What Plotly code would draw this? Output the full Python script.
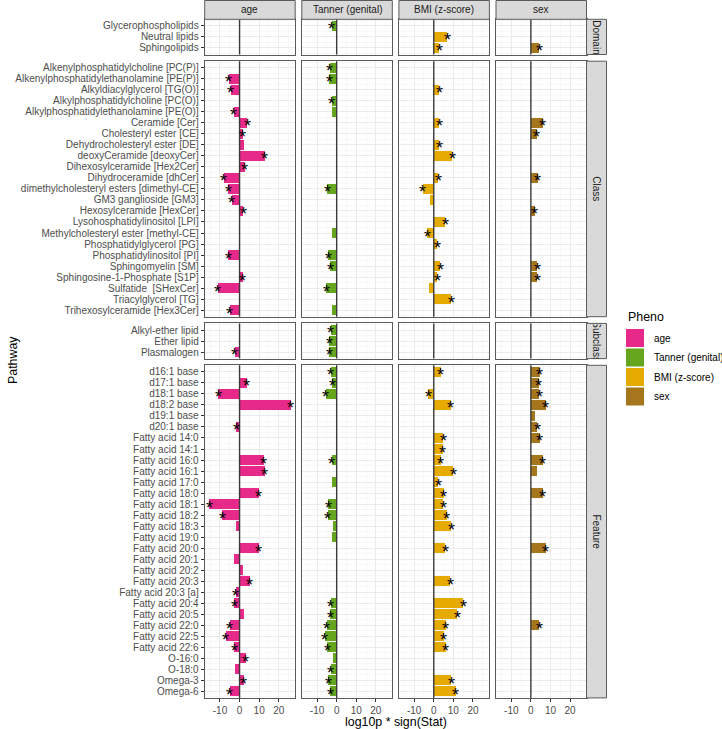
import plotly.graph_objects as go

W, H = 722, 729

phenos = ["age", "Tanner (genital)", "BMI (z-score)", "sex"]
pheno_colors = ["#E7298A", "#66A61E", "#E6AB02", "#A6761D"]
facets = ["Domain", "Class", "Subclass", "Feature"]

domain_labels = ["Glycerophospholipids", "Neutral lipids", "Sphingolipids"]
class_labels = [
    "Alkenylphosphatidylcholine [PC(P)]",
    "Alkenylphosphatidylethanolamine [PE(P)]",
    "Alkyldiacylglycerol [TG(O)]",
    "Alkylphosphatidylcholine [PC(O)]",
    "Alkylphosphatidylethanolamine [PE(O)]",
    "Ceramide [Cer]",
    "Cholesteryl ester [CE]",
    "Dehydrocholesteryl ester [DE]",
    "deoxyCeramide [deoxyCer]",
    "Dihexosylceramide [Hex2Cer]",
    "Dihydroceramide [dhCer]",
    "dimethylcholesteryl esters [dimethyl-CE]",
    "GM3 ganglioside [GM3]",
    "Hexosylceramide [HexCer]",
    "Lysohosphatidylinositol [LPI]",
    "Methylcholesteryl ester [methyl-CE]",
    "Phosphatidylglycerol [PG]",
    "Phosphatidylinositol [PI]",
    "Sphingomyelin [SM]",
    "Sphingosine-1-Phosphate [S1P]",
    "Sulfatide  [SHexCer]",
    "Triacylglycerol [TG]",
    "Trihexosylceramide [Hex3Cer]",
]
subclass_labels = ["Alkyl-ether lipid", "Ether lipid", "Plasmalogen"]
feature_labels = [
    "d16:1 base", "d17:1 base", "d18:1 base", "d18:2 base", "d19:1 base", "d20:1 base",
    "Fatty acid 14:0", "Fatty acid 14:1", "Fatty acid 16:0", "Fatty acid 16:1",
    "Fatty acid 17:0", "Fatty acid 18:0", "Fatty acid 18:1", "Fatty acid 18:2",
    "Fatty acid 18:3", "Fatty acid 19:0", "Fatty acid 20:0", "Fatty acid 20:1",
    "Fatty acid 20:2", "Fatty acid 20:3", "Fatty acid 20:3 [a]", "Fatty acid 20:4",
    "Fatty acid 20:5", "Fatty acid 22:0", "Fatty acid 22:5", "Fatty acid 22:6",
    "O-16:0", "O-18:0", "Omega-3", "Omega-6",
]

x_ticks = [-10, 0, 10, 20]
x_tick_text = ["-10", "0", "10", "20"]

# ---- values (log10p * sign(Stat)); None = no bar; *_sig: 1 = starred ----
age_domain = [None, None, None]
age_domain_sig = [0, 0, 0]
tanner_domain = [-2.6, None, None]
tanner_domain_sig = [1, 0, 0]
bmi_domain = [None, 7.0, 2.9]
bmi_domain_sig = [0, 1, 1]
sex_domain = [None, None, 4.3]
sex_domain_sig = [0, 0, 1]

age_class = [None, -5.4, -4.6, None, -2.9, 3.8, 1.7, 2.2, 12.8, 2.6, -8.0, -5.8,
             -3.9, 2.0, None, None, None, -5.8, None, 1.7, -11.1, None, -5.1]
age_class_sig = [0, 1, 1, 0, 1, 1, 1, 0, 1, 1, 1, 1, 1, 1, 0, 0, 0, 1, 0, 1, 1, 0, 1]
tanner_class = [-3.6, -3.9, None, -2.6, -2.4, None, None, None, None, None, None, -4.8,
                None, None, None, -2.2, None, -4.3, -3.4, None, -5.4, None, -2.6]
tanner_class_sig = [1, 1, 0, 1, 0, 0, 0, 0, 0, 0, 0, 1, 0, 0, 0, 0, 0, 1, 1, 0, 1, 0, 0]
bmi_class = [None, None, 2.9, None, None, 2.9, None, 2.9, 9.4, None, 2.4, -5.6,
             -1.9, None, 5.8, -3.3, 1.7, None, 3.2, 1.9, -2.4, 9.0, None]
bmi_class_sig = [0, 0, 1, 0, 0, 1, 0, 1, 1, 0, 1, 1, 0, 0, 1, 1, 1, 0, 1, 1, 0, 1, 0]
sex_class = [None, None, None, None, None, 6.0, 2.9, None, None, None, 3.4, None,
             None, 1.9, None, None, None, None, 3.2, 3.2, None, None, None]
sex_class_sig = [0, 0, 0, 0, 0, 1, 1, 0, 0, 0, 1, 0, 0, 1, 0, 0, 0, 0, 1, 1, 0, 0, 0]

age_subclass = [None, None, -2.4]
age_subclass_sig = [0, 0, 1]
tanner_subclass = [-2.9, -3.7, -3.9]
tanner_subclass_sig = [1, 1, 1]
bmi_subclass = [None, None, None]
bmi_subclass_sig = [0, 0, 0]
sex_subclass = [None, None, None]
sex_subclass_sig = [0, 0, 0]

age_feature = [None, 3.7, -10.9, 26.0, None, -1.7, None, None, 12.4, 12.9, None, 9.7,
               -15.6, -8.8, -2.0, None, 9.7, -2.6, 2.0, 5.1, -1.9, -2.7, 2.2, -5.1,
               -7.1, -2.7, 3.1, -2.4, 2.2, -5.1]
age_feature_sig = [0, 1, 1, 1, 0, 1, 0, 0, 1, 1, 0, 1, 1, 1, 0, 0, 1, 0, 0, 1, 1, 1, 0, 1,
                   1, 1, 1, 0, 1, 1]
tanner_feature = [-2.9, -2.2, -5.6, None, None, None, None, None, -2.6, None, -2.4, None,
                  -4.3, -4.6, -2.0, -2.2, None, None, None, None, None, -2.9, -3.4, -5.1,
                  -6.0, -4.8, -1.7, -3.1, -4.3, -3.4]
tanner_feature_sig = [1, 1, 1, 0, 0, 0, 0, 0, 1, 0, 0, 0, 1, 1, 0, 0, 0, 0, 0, 0, 0, 1, 1, 1,
                      1, 1, 0, 1, 1, 1]
bmi_feature = [3.6, None, -2.7, 8.7, None, None, 4.9, 4.6, 3.6, 10.0, 2.4, 5.1, 4.8, 6.6,
               8.8, None, 5.8, None, None, 8.3, None, 15.1, 12.1, 6.1, 5.1, 6.1, None,
               None, 8.8, 11.1]
bmi_feature_sig = [1, 0, 1, 1, 0, 0, 1, 1, 1, 1, 1, 1, 1, 1, 1, 0, 1, 0, 0, 1, 0, 1, 1, 1,
                   1, 1, 0, 0, 1, 1]
sex_feature = [4.6, 4.1, 4.3, 7.7, 2.0, 3.2, 4.6, None, 6.0, 3.2, None, 6.0, None, None,
               None, None, 7.5, None, None, None, None, None, None, 4.3, None, None, None,
               None, None, None]
sex_feature_sig = [1, 1, 1, 1, 0, 1, 1, 0, 1, 0, 0, 1, 0, 0, 0, 0, 1, 0, 0, 0, 0, 0, 0, 1,
                   0, 0, 0, 0, 0, 0]

facet_labels = [domain_labels, class_labels, subclass_labels, feature_labels]
data = [
    [(age_domain, age_domain_sig), (tanner_domain, tanner_domain_sig),
     (bmi_domain, bmi_domain_sig), (sex_domain, sex_domain_sig)],
    [(age_class, age_class_sig), (tanner_class, tanner_class_sig),
     (bmi_class, bmi_class_sig), (sex_class, sex_class_sig)],
    [(age_subclass, age_subclass_sig), (tanner_subclass, tanner_subclass_sig),
     (bmi_subclass, bmi_subclass_sig), (sex_subclass, sex_subclass_sig)],
    [(age_feature, age_feature_sig), (tanner_feature, tanner_feature_sig),
     (bmi_feature, bmi_feature_sig), (sex_feature, sex_feature_sig)],
]

# ---- layout geometry (pixels) ----
col_left = [204.7, 301.8, 398.9, 496.0]
col_w = 90.5
row_top = [19.3, 61.2, 323.4, 365.3]
row_bot = [54.5, 316.7, 358.6, 697.9]
strip_w = 20.0
x_range = [-17.8, 28.4]

FONT = "Liberation Sans, Arial, Helvetica, sans-serif"
BORDER = "#5a5a5a"


def fx(p):
    return p / W


def fy(p):
    return 1 - p / H


fig = go.Figure()
layout = {}
annotations = []
shapes = []

for r, facet in enumerate(facets):
    labels = facet_labels[r]
    n = len(labels)
    for c, ph in enumerate(phenos):
        k = r * 4 + c + 1
        xa = "x" if k == 1 else f"x{k}"
        ya = "y" if k == 1 else f"y{k}"
        vals, sig = data[r][c]
        idx = [i for i, v in enumerate(vals) if v is not None]
        fig.add_trace(go.Bar(
            x=[vals[i] for i in idx], y=idx, orientation="h", width=0.9,
            marker=dict(color=pheno_colors[c], line=dict(width=0)),
            xaxis=xa, yaxis=ya, showlegend=False, hoverinfo="skip",
        ))
        for i in idx:
            if sig[i]:
                annotations.append(dict(
                    x=vals[i], y=i, xref=xa, yref=ya, text="*", showarrow=False,
                    font=dict(family=FONT, size=18, color="black"),
                    xanchor="center", yanchor="middle", yshift=-3.5,
                ))
        bottom = (r == len(facets) - 1)
        layout["xaxis" if k == 1 else f"xaxis{k}"] = dict(
            domain=[fx(col_left[c]), fx(col_left[c] + col_w)],
            anchor=ya, range=x_range, tickmode="array",
            tickvals=x_ticks, ticktext=x_tick_text,
            showticklabels=bottom, ticks="outside" if bottom else "",
            ticklen=3, tickwidth=1, tickcolor="#333333",
            tickfont=dict(family=FONT, size=10, color="#4D4D4D"),
            showgrid=True, gridcolor="#EBEBEB", gridwidth=1,
            minor=dict(tickmode="array", tickvals=[-15, -5, 5, 15, 25],
                       showgrid=True, gridcolor="#F3F3F3", gridwidth=0.6),
            zeroline=False, showline=True, mirror=True,
            linecolor=BORDER, linewidth=1, fixedrange=True,
        )
        layout["yaxis" if k == 1 else f"yaxis{k}"] = dict(
            domain=[fy(row_bot[r]), fy(row_top[r])],
            anchor=xa, range=[n - 0.4, -0.6], tickmode="array",
            tickvals=list(range(n)), ticktext=labels,
            showticklabels=(c == 0), ticks="outside" if c == 0 else "",
            ticklen=3, tickwidth=1, tickcolor="#333333",
            tickfont=dict(family=FONT, size=10, color="#4D4D4D"),
            showgrid=True, gridcolor="#EBEBEB", gridwidth=1,
            minor=dict(tickmode="array", tickvals=[i + 0.5 for i in range(-1, n)],
                       showgrid=True, gridcolor="#F3F3F3", gridwidth=0.6),
            zeroline=False, showline=True, mirror=True,
            linecolor=BORDER, linewidth=1, fixedrange=True,
        )
        # vertical reference line at 0
        shapes.append(dict(type="line", xref=xa, yref=f"{ya} domain",
                           x0=0, x1=0, y0=0, y1=1, layer="above",
                           line=dict(color="#3a3a3a", width=1.4)))

# top strips
for c, ph in enumerate(phenos):
    shapes.append(dict(type="rect", xref="paper", yref="paper",
                       x0=fx(col_left[c]), x1=fx(col_left[c] + col_w),
                       y0=fy(row_top[0]), y1=fy(0.5),
                       fillcolor="#D9D9D9", line=dict(color=BORDER, width=1), layer="above"))
    annotations.append(dict(xref="paper", yref="paper",
                            x=fx(col_left[c] + col_w / 2), y=fy((row_top[0] + 0.5) / 2),
                            text=ph, showarrow=False, xanchor="center", yanchor="middle",
                            font=dict(family=FONT, size=10, color="#1A1A1A")))

# right strips
sx0 = col_left[3] + col_w
for r, facet in enumerate(facets):
    shapes.append(dict(type="rect", xref="paper", yref="paper",
                       x0=fx(sx0), x1=fx(sx0 + strip_w),
                       y0=fy(row_bot[r]), y1=fy(row_top[r]),
                       fillcolor="#D9D9D9", line=dict(color=BORDER, width=1), layer="above"))
    annotations.append(dict(xref="paper", yref="paper",
                            x=fx(sx0 + strip_w / 2), y=fy((row_top[r] + row_bot[r]) / 2),
                            text=facet, showarrow=False, textangle=90,
                            xanchor="center", yanchor="middle",
                            width=row_bot[r] - row_top[r] - 1, height=strip_w - 2,
                            font=dict(family=FONT, size=10, color="#1A1A1A")))

# axis titles
annotations.append(dict(xref="paper", yref="paper", x=fx(395.6), y=fy(722),
                        text="log10p * sign(Stat)", showarrow=False,
                        xanchor="center", yanchor="middle",
                        font=dict(family=FONT, size=12.4, color="black")))
annotations.append(dict(xref="paper", yref="paper", x=fx(13), y=fy(360),
                        text="Pathway", showarrow=False, textangle=-90,
                        xanchor="center", yanchor="middle",
                        font=dict(family=FONT, size=12.4, color="black")))

# legend (drawn manually to match ggplot keys)
annotations.append(dict(xref="paper", yref="paper", x=fx(625.5), y=fy(317),
                        text="Pheno", showarrow=False, xanchor="left", yanchor="middle",
                        font=dict(family=FONT, size=12.4, color="black")))
key_top = 329.0
key_step = 19.5
key_size = 18.0
for i, ph in enumerate(phenos):
    t = key_top + i * key_step
    shapes.append(dict(type="rect", xref="paper", yref="paper",
                       x0=fx(626), x1=fx(626 + key_size), y0=fy(t + key_size), y1=fy(t),
                       fillcolor=pheno_colors[i], line=dict(width=0)))
    annotations.append(dict(xref="paper", yref="paper", x=fx(651.5), y=fy(t + key_size / 2),
                            text=ph, showarrow=False, xanchor="left", yanchor="middle",
                            font=dict(family=FONT, size=10, color="black")))

fig.update_layout(
    width=W, height=H, autosize=False,
    margin=dict(l=0, r=0, t=0, b=0),
    paper_bgcolor="white", plot_bgcolor="white",
    showlegend=False, bargap=0,
    annotations=annotations, shapes=shapes,
    font=dict(family=FONT),
    **layout,
)

fig.write_html(
    "out.html",
    config={"displayModeBar": False, "staticPlot": True},
    post_script="document.body.style.margin='0px';document.body.style.overflow='hidden';",
)
